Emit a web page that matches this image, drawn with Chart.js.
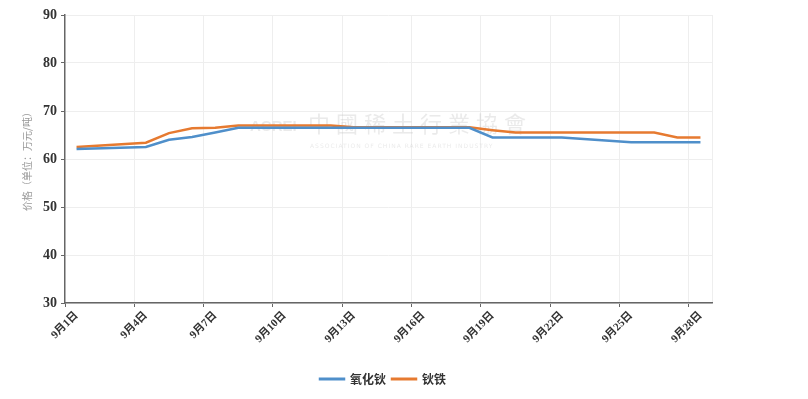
<!DOCTYPE html>
<html>
<head>
<meta charset="utf-8">
<script src="https://cdn.jsdelivr.net/npm/chart.js@4"></script>
<style>
  body { margin: 0; background: #fff; }
  #wrap { width: 808px; height: 399px; position: relative; }
</style>
</head>
<body>
<div id="wrap"><canvas id="price-chart"></canvas></div>
<script>
// days of september shown on the axis
const days = [];
for (let d = 1; d <= 28; d++) days.push('9月' + d + '日');

// prices, null on days with no quote (weekends)
const holmiumOxide = [62.1, null, null, 62.5, 64.0, 64.6, 65.5, 66.5, null, null, 66.5, 66.5, 66.5, 66.5, 66.5, null, null, 66.5, 64.5, 64.5, 64.5, 64.5, null, null, 63.5, 63.5, 63.5, 63.5];
const holmiumIron = [62.5, null, null, 63.4, 65.4, 66.4, 66.5, 67.0, null, null, 67.0, 67.0, 66.6, 66.6, 66.6, null, null, 66.6, 66.0, 65.5, 65.5, 65.5, null, null, 65.5, 65.5, 64.5, 64.5];

const seriesNames = ['氧化钬', '钬铁'];
const seriesColors = ['#4f8fca', '#e67a30'];
const yMin = 30, yMax = 90, yStep = 10;

const tickFont = { family: "'Liberation Serif', 'Noto Sans CJK SC', serif", weight: 'bold' };

// faint watermark in the middle of the plot
const watermark = {
  id: 'watermark',
  beforeDatasetsDraw(chart) {
    const c = chart.ctx;
    c.save();
    c.fillStyle = 'rgba(185,185,185,0.3)';
    c.textBaseline = 'middle';
    c.font = "bold 15px 'Liberation Sans'";
    c.fillText('ACREI', 250, 127);
    c.font = "22px 'Noto Sans CJK TC'";
    const chars = '中國稀土行業協會';
    for (let i = 0; i < chars.length; i++) c.fillText(chars[i], 308 + i * 28, 124);
    c.font = "6px 'DejaVu Sans'";
    c.letterSpacing = '1px';
    c.fillText('ASSOCIATION OF CHINA RARE EARTH INDUSTRY', 310, 146);
    c.restore();
  }
};

// nudge the legend a bit to the right
const legendShift = {
  id: 'legendShift',
  afterLayout(chart) {
    chart.legend.left += 27;
    chart.legend.right += 27;
  }
};

new Chart(document.getElementById('price-chart'), {
  type: 'line',
  data: {
    labels: days,
    datasets: [
      {
        label: seriesNames[0],
        data: holmiumOxide,
        borderColor: seriesColors[0],
        backgroundColor: seriesColors[0],
        borderWidth: 2.5,
        pointRadius: 0,
        spanGaps: true
      },
      {
        label: seriesNames[1],
        data: holmiumIron,
        borderColor: seriesColors[1],
        backgroundColor: seriesColors[1],
        borderWidth: 2.5,
        pointRadius: 0,
        spanGaps: true
      }
    ]
  },
  options: {
    responsive: true,
    maintainAspectRatio: false,
    animation: false,
    layout: { padding: { top: 15, right: 96, bottom: 4, left: 0 } },
    plugins: {
      tooltip: { enabled: false },
      legend: {
        position: 'bottom',
        labels: {
          boxWidth: 24,
          boxHeight: 0.5,
          padding: 6,
          color: '#333',
          font: { family: "'Noto Sans CJK SC'", size: 12, weight: 'bold' }
        }
      }
    },
    scales: {
      x: {
        offset: true,
        grid: {
          offset: true,
          drawOnChartArea: true,
          tickLength: 4,
          color: (ctx) => (ctx.index === undefined || (ctx.index > 0 && ctx.index % 3 === 0)) ? '#eeeeee' : 'rgba(0,0,0,0)',
          tickColor: (ctx) => (ctx.index !== undefined && ctx.index % 3 === 0) ? '#666' : 'rgba(0,0,0,0)'
        },
        border: { color: '#666', width: 1.5 },
        ticks: {
          autoSkip: false,
          minRotation: 45,
          maxRotation: 45,
          padding: 2,
          color: '#333',
          font: Object.assign({ size: 11 }, tickFont),
          callback: function (val, i) { return i % 3 === 0 ? this.getLabelForValue(val) : ''; }
        },
        afterFit: (scale) => { scale.height = 64; }
      },
      y: {
        min: yMin,
        max: yMax,
        ticks: {
          stepSize: yStep,
          padding: 4,
          color: '#333',
          font: Object.assign({ size: 14 }, tickFont)
        },
        grid: { color: '#eeeeee', tickLength: 4, tickColor: '#666' },
        border: { color: '#666', width: 1.5 },
        title: {
          display: true,
          text: '价格（单位：万元/吨）',
          color: '#999',
          padding: { top: 21, bottom: 0 },
          font: { family: "'Noto Sans CJK SC'", size: 10 }
        },
        afterFit: (scale) => { scale.width = 65; }
      }
    }
  },
  plugins: [watermark, legendShift]
});
</script>
</body>
</html>
